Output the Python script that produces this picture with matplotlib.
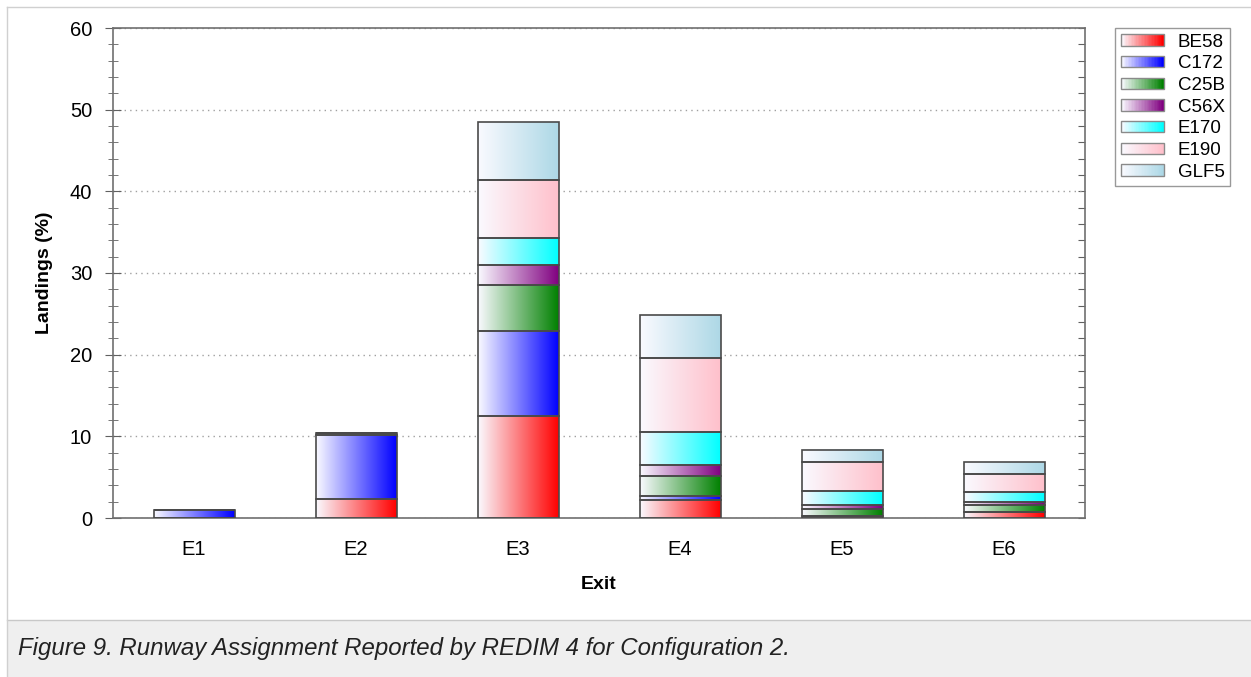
import numpy as np
import matplotlib
matplotlib.use("Agg")
import matplotlib.pyplot as plt
from matplotlib.colors import LinearSegmentedColormap, to_rgb
from matplotlib.patches import Rectangle
from matplotlib.legend_handler import HandlerBase
from matplotlib.ticker import MultipleLocator, NullFormatter

plt.rcParams["font.family"] = ["Liberation Sans", "DejaVu Sans"]

exits = ["E1", "E2", "E3", "E4", "E5", "E6"]
aircraft = ["BE58", "C172", "C25B", "C56X", "E170", "E190", "GLF5"]
colors = ["#ff0000", "#0000ff", "#008000", "#800080", "#00ffff", "#ffc0cb", "#add8e6"]

be58 = [0.0, 2.3, 12.5, 2.2, 0.25, 0.7]
c172 = [1.0, 7.9, 10.4, 0.5, 0.0, 0.0]
c25b = [0.0, 0.2, 5.6, 2.4, 0.8, 0.9]
c56x = [0.0, 0.0, 2.5, 1.4, 0.5, 0.3]
e170 = [0.0, 0.0, 3.3, 4.0, 1.75, 1.3]
e190 = [0.0, 0.0, 7.1, 9.1, 3.55, 2.2]
glf5 = [0.0, 0.0, 7.1, 5.2, 1.5, 1.4]
series = [be58, c172, c25b, c56x, e170, e190, glf5]

caption = "Figure 9. Runway Assignment Reported by REDIM 4 for Configuration 2."


def white_to(c):
    return LinearSegmentedColormap.from_list("g", [(0.98, 0.98, 1.0), to_rgb(c)])


class GradientHandler(HandlerBase):
    def __init__(self, color):
        super().__init__()
        self.color = color

    def create_artists(self, legend, orig_handle, xdescent, ydescent, width, height, fontsize, trans):
        cmap = white_to(self.color)
        n = 30
        arts = []
        for i in range(n):
            r = Rectangle((-xdescent + width * i / n, -ydescent), width / n + 0.3, height,
                          facecolor=cmap(i / (n - 1)), edgecolor="none", transform=trans)
            arts.append(r)
        arts.append(Rectangle((-xdescent, -ydescent), width, height, facecolor="none",
                              edgecolor="#8a8a8a", linewidth=1, transform=trans))
        return arts


fig = plt.figure(figsize=(12.51, 6.77), dpi=100)

# outer frame and caption band
fig.patches.append(Rectangle((7 / 1251, 0), 1 - 7 / 1251, 57 / 677, transform=fig.transFigure,
                             facecolor="#efefef", edgecolor="none", zorder=0))
fig.add_artist(plt.Line2D([7 / 1251, 1], [57 / 677, 57 / 677], color="#c8c8c8", lw=1))
fig.add_artist(plt.Line2D([7 / 1251, 7 / 1251], [0, 1 - 7 / 677], color="#d0d0d0", lw=1))
fig.add_artist(plt.Line2D([7 / 1251, 1], [1 - 7 / 677, 1 - 7 / 677], color="#d0d0d0", lw=1))
fig.text(18 / 1251, 29 / 677, caption, fontsize=17.3, style="italic", va="center", ha="left",
         family=["Liberation Sans Narrow", "Liberation Sans", "DejaVu Sans"], color="#222222")

ax = fig.add_axes([113 / 1251, 1 - 518 / 677, 972 / 1251, 490 / 677])
x = np.arange(len(exits))
width = 0.5
gradient = np.linspace(0, 1, 256).reshape(1, -1)
bottom = np.zeros(len(exits))
for vals, col in zip(series, colors):
    vals = np.array(vals)
    for xi, b, v in zip(x, bottom, vals):
        if v <= 0:
            continue
        ax.imshow(gradient, cmap=white_to(col), aspect="auto", interpolation="bilinear",
                  extent=(xi - width / 2, xi + width / 2, b, b + v), zorder=2)
    ax.bar(x, vals, width, bottom=bottom, fill=False, edgecolor="#4a4a4a", linewidth=1.2, zorder=3)
    bottom += vals

ax.set_xlim(-0.5, len(exits) - 0.5)
ax.set_ylim(0, 60)
ax.set_xticks(x)
ax.set_xticklabels(exits, fontsize=14.5)
ax.tick_params(axis="x", length=0, pad=16)
ax.yaxis.set_major_locator(MultipleLocator(10))
ax.yaxis.set_minor_locator(MultipleLocator(2))
ax.tick_params(axis="y", which="major", direction="inout", length=12, labelsize=14.5, color="#606060",
               pad=9)
ax.tick_params(axis="y", which="minor", direction="inout", length=7, color="#606060")
ax.yaxis.grid(True, which="major", linestyle=(0, (1, 3)), color="#a0a0a0", linewidth=1)
ax.set_axisbelow(True)
for s in ax.spines.values():
    s.set_color("#707070")
    s.set_linewidth(1.2)
ax.set_xlabel("Exit", fontsize=14, fontweight="bold", labelpad=12)
ax.set_ylabel("Landings (%)", fontsize=14, fontweight="bold", labelpad=12)

# inward ticks on the right spine
sec = ax.secondary_yaxis("right")
sec.yaxis.set_major_locator(MultipleLocator(2))
sec.yaxis.set_major_formatter(NullFormatter())
sec.tick_params(axis="y", direction="in", length=5, color="#606060")
sec.spines["right"].set_visible(False)

handles = [Rectangle((0, 0), 1, 1) for _ in aircraft]
leg = fig.legend(handles, aircraft, loc="upper left", bbox_to_anchor=(1115 / 1251, 1 - 28 / 677),
                 borderaxespad=0,
                 handler_map={h: GradientHandler(c) for h, c in zip(handles, colors)},
                 fontsize=13.5, frameon=True, fancybox=False, edgecolor="#808080",
                 handlelength=2.3, handleheight=0.55, labelspacing=0.25, borderpad=0.3,
                 handletextpad=0.75)
leg.get_frame().set_linewidth(1)

fig.savefig("out.png", dpi=100)
